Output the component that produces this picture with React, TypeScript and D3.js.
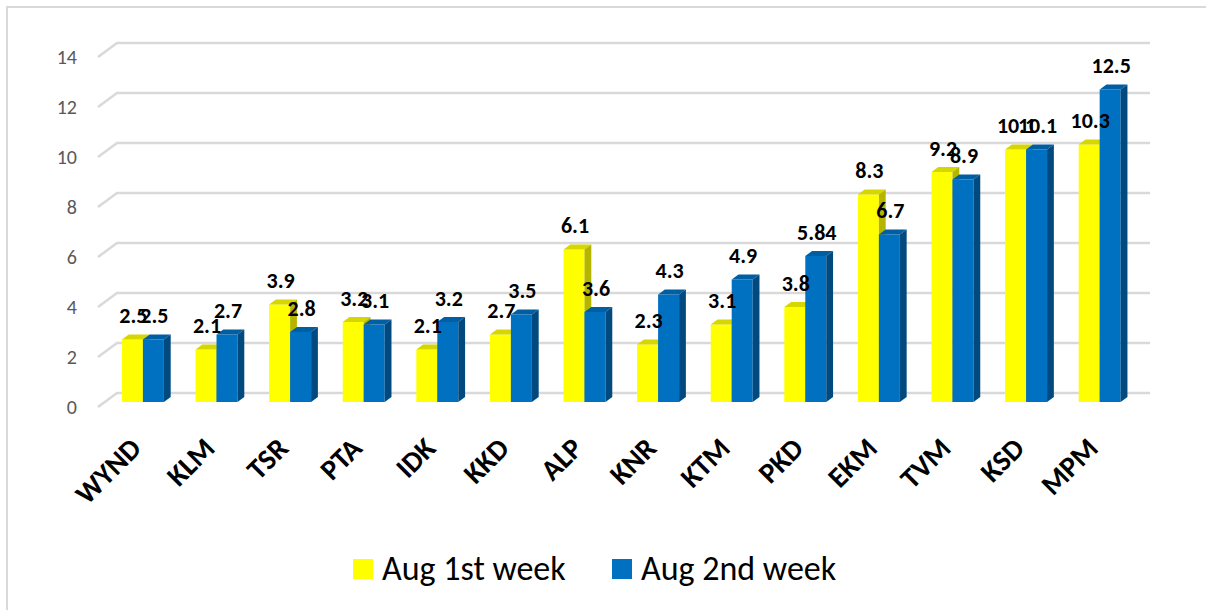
import React, { useEffect, useRef } from 'react';
import * as d3 from 'd3';

const districts = ['WYND', 'KLM', 'TSR', 'PTA', 'IDK', 'KKD', 'ALP', 'KNR', 'KTM', 'PKD', 'EKM', 'TVM', 'KSD', 'MPM'];
const week1 = [2.5, 2.1, 3.9, 3.2, 2.1, 2.7, 6.1, 2.3, 3.1, 3.8, 8.3, 9.2, 10.1, 10.3];
const week2 = [2.5, 2.7, 2.8, 3.1, 3.2, 3.5, 3.6, 4.3, 4.9, 5.84, 6.7, 8.9, 10.1, 12.5];
const yTicks = [0, 2, 4, 6, 8, 10, 12, 14];
const seriesNames = ['Aug 1st week', 'Aug 2nd week'];

const FONT = 'Calibri, Carlito, Lato, sans-serif';

const App = () => {
  const ref = useRef<SVGSVGElement>(null);

  useEffect(() => {
    const svg = d3.select(ref.current);
    svg.selectAll('*').remove();

    // chart frame
    svg.append('rect')
      .attr('x', 7).attr('y', 7)
      .attr('width', 1230).attr('height', 640)
      .attr('fill', '#fff')
      .attr('stroke', '#d9d9d9')
      .attr('stroke-width', 2);

    const left = 98, right = 1131, floorY = 407;
    const depthX = 19, depthY = -14; // floor depth
    const barDX = 6.8, barDY = -5;   // bar front offset into depth & bar depth

    const x = d3.scaleBand<string>()
      .domain(districts)
      .range([left, right])
      .paddingInner(0.43)
      .paddingOuter(0.233);

    const y = d3.scaleLinear().domain([0, 14]).range([floorY, floorY - 350]);

    // gridlines with the floor diagonal on the left
    const grid = svg.append('g');
    yTicks.forEach(t => {
      const y0 = y(t);
      grid.append('path')
        .attr('d', `M${left},${y0}L${left + depthX},${y0 + depthY}L${right + depthX},${y0 + depthY}`)
        .attr('fill', 'none')
        .attr('stroke', '#d9d9d9')
        .attr('stroke-width', 2.5);
      grid.append('text')
        .attr('x', 77).attr('y', y0)
        .attr('dy', '0.35em')
        .attr('text-anchor', 'end')
        .attr('font-family', FONT)
        .attr('font-size', 20)
        .attr('fill', '#595959')
        .text(t);
    });

    const bw = x.bandwidth() / 2;
    const series = [
      { values: week1, front: '#ffff00', top: '#d6d600', side: '#b5b500' },
      { values: week2, front: '#0070c0', top: '#005fa3', side: '#004a80' },
    ];

    const bars = svg.append('g');
    districts.forEach((d, i) => {
      series.forEach((s, k) => {
        const x0 = (x(d) as number) + k * bw + barDX;
        const yTop = y(s.values[i]) + barDY;
        const yBot = floorY + barDY;
        bars.append('rect')
          .attr('x', x0).attr('y', yTop)
          .attr('width', bw).attr('height', yBot - yTop)
          .attr('fill', s.front);
        bars.append('path')
          .attr('d', `M${x0},${yTop}L${x0 + barDX},${yTop + barDY}L${x0 + bw + barDX},${yTop + barDY}L${x0 + bw},${yTop}Z`)
          .attr('fill', s.top);
        bars.append('path')
          .attr('d', `M${x0 + bw},${yTop}L${x0 + bw + barDX},${yTop + barDY}L${x0 + bw + barDX},${yBot + barDY}L${x0 + bw},${yBot}Z`)
          .attr('fill', s.side);
      });
    });

    // value labels
    const labels = svg.append('g');
    districts.forEach((d, i) => {
      series.forEach((s, k) => {
        const cx = (x(d) as number) + k * bw + bw / 2 + barDX + 1;
        labels.append('text')
          .attr('x', cx)
          .attr('y', y(s.values[i]) + barDY - 16.5)
          .attr('text-anchor', 'middle')
          .attr('font-family', FONT)
          .attr('font-weight', 'bold')
          .attr('font-size', 22)
          .attr('fill', '#000')
          .text(s.values[i]);
      });
    });

    // category labels
    const xl = svg.append('g');
    districts.forEach(d => {
      const px = (x(d) as number) + x.bandwidth() / 2 + barDX;
      xl.append('text')
        .attr('transform', `translate(${px},450) rotate(-45)`)
        .attr('text-anchor', 'end')
        .attr('font-family', FONT)
        .attr('font-weight', 'bold')
        .attr('font-size', 29)
        .attr('fill', '#000')
        .text(d);
    });

    // legend
    const legendX = [353, 612];
    const lg = svg.append('g');
    seriesNames.forEach((n, k) => {
      lg.append('rect')
        .attr('x', legendX[k]).attr('y', 559)
        .attr('width', 20).attr('height', 20)
        .attr('fill', series[k].front);
      lg.append('text')
        .attr('x', legendX[k] + 29).attr('y', 580)
        .attr('font-family', FONT)
        .attr('font-size', 34)
        .attr('fill', '#000')
        .text(n);
    });
  }, []);

  return (
    <svg
      ref={ref}
      width={1206}
      height={610}
      style={{ position: 'absolute', left: 0, top: 0, background: '#fff' }}
    />
  );
};

export default App;
